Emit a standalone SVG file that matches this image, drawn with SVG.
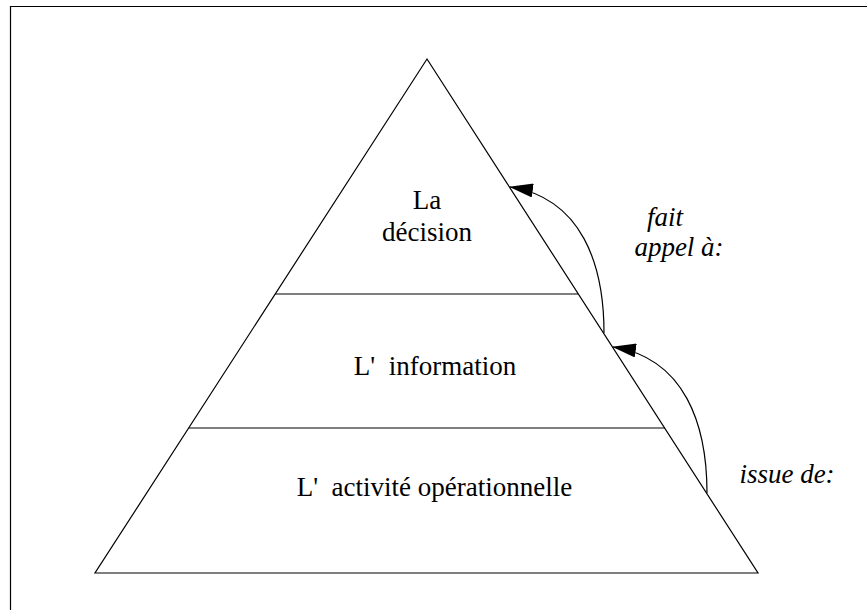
<svg xmlns="http://www.w3.org/2000/svg" width="867" height="610" viewBox="0 0 867 610">
<style>
.ln{fill:none;stroke:#000;stroke-width:1.2}
text{font-family:'Liberation Serif','Times New Roman',serif;font-size:27px;fill:#000;text-anchor:middle}
.it{font-style:italic}
</style>
<defs>
<marker id="ah" viewBox="0 0 24 14" refX="23" refY="7" markerWidth="24" markerHeight="14" markerUnits="userSpaceOnUse" orient="auto">
<path d="M0,0 L24,7 L0,14 z" fill="#000"/>
</marker>
</defs>
<rect width="867" height="610" fill="#fff"/>
<path class="ln" d="M10.5,610 V6.5 H867" stroke-width="1.5"/>
<g id="pyramid">
<polygon class="ln" points="427,59 758,573 95,573"/>
</g>
<g id="decision">
<line class="ln" x1="275" y1="294" x2="578" y2="294"/>
<text x="427" y="209">La</text>
<text x="427" y="241">décision</text>
</g>
<g id="information">
<line class="ln" x1="189" y1="428" x2="665" y2="428"/>
<text x="435" y="375">L'&#160; information</text>
</g>
<g id="activite">
<text x="434.5" y="496">L'&#160; activité opérationnelle</text>
</g>
<g id="connectors">
<path class="ln" d="M604,333 C604,265 582,198 510,187" marker-end="url(#ah)"/>
<path class="ln" d="M707,493 C707,425 685,358 613,347" marker-end="url(#ah)"/>
<text class="it" x="665" y="226">fait</text>
<text class="it" x="679" y="256">appel à:</text>
<text class="it" x="787" y="483">issue de:</text>
</g>
</svg>
